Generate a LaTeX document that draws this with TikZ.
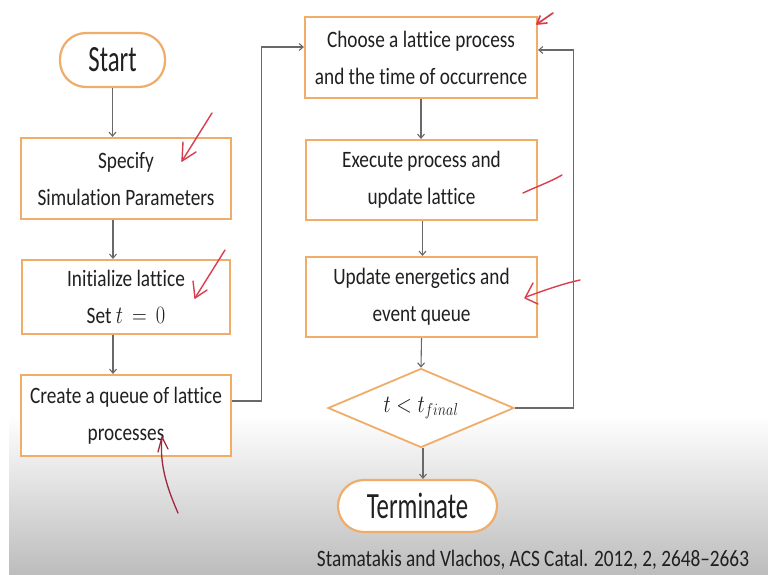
\documentclass[tikz,border=0pt]{standalone}
\usepackage{fontspec}
\setmainfont{Carlito}[FakeStretch=0.82, Ligatures=NoCommon]
\newfontfamily\bigfont{Carlito}[FakeStretch=0.67, Ligatures=NoCommon]
\usetikzlibrary{arrows.meta,shapes.geometric}
\definecolor{boxorange}{RGB}{240,172,105}
\definecolor{linkgray}{RGB}{105,105,105}
\definecolor{inkdark}{RGB}{32,32,32}
\definecolor{penred}{RGB}{218,62,78}
\definecolor{pencrimson}{RGB}{160,40,62}
\tikzset{
  x=1pt, y=-1pt,
  every node/.style={text=inkdark},
  body/.style={font=\fontsize{23.5}{37}\selectfont, align=center},
  procbox/.style={draw=boxorange, line width=2.2pt, fill=white, body, inner sep=0pt},
  pill/.style={draw=boxorange, line width=2.2pt, fill=white, rounded corners=26pt,
    font=\bigfont\fontsize{37}{40}\selectfont, inner sep=0pt},
  decision/.style={draw=boxorange, line width=1.8pt, fill=white, shape=diamond,
    aspect=2.35, inner sep=0pt, minimum width=186pt, minimum height=79pt, body},
  link/.style={draw=linkgray, line width=1.1pt, -{Straight Barb[length=4pt,width=7pt]}},
  pen/.style={draw=penred, line width=1.4pt, line cap=round, line join=round},
  darkpen/.style={draw=pencrimson, line width=1.3pt, line cap=round, line join=round},
}
\newcommand{\mathsq}[1]{\scalebox{0.82}[1]{#1}}
\begin{document}
\begin{tikzpicture}
\useasboundingbox (0,0) rectangle (768,574);
% page background with the soft grey band at the foot
\fill[white] (0,0) rectangle (768,574);
\shade[top color=white, bottom color=black!26] (9,415) rectangle (768,574);

% left column
\node[pill, minimum width=105pt, minimum height=54pt] (start) at (112.5,60) {Start};
\node[procbox, minimum width=210pt, minimum height=81pt] (spec) at (126,178.5)
  {Specify\\Simulation Parameters};
\node[procbox, minimum width=208pt, minimum height=74pt] (init) at (126,297)
  {Initialize lattice\\Set \mathsq{$t\,=\,0$}};
\node[procbox, minimum width=210pt, minimum height=81pt] (queue) at (126,415.5)
  {Create a queue of lattice\\processes};

% right column
\node[procbox, minimum width=232pt, minimum height=81pt] (choose) at (421,57.5)
  {Choose a lattice process\\and the time of occurrence};
\node[procbox, minimum width=231pt, minimum height=80pt] (exec) at (421.5,180)
  {Execute process and\\update lattice};
\node[procbox, minimum width=231pt, minimum height=80pt] (upd) at (421.5,297)
  {Update energetics and\\event queue};
\node[decision] (test) at (421,408) {\mathsq{$t < t_{final}$}};
\node[pill, minimum width=159pt, minimum height=52pt] (term) at (417.5,506) {Terminate};

% citation
\node[body, anchor=base] (cite) at (533,566)
  {Stamatakis and Vlachos, ACS Catal. 2012, 2, 2648--2663};

% connectors
\path[link] (start.south) -- (start.south |- spec.north);
\path[link] ([xshift=-13pt]spec.south) -- ([xshift=-13pt]init.north);
\path[link] ([xshift=-13pt]init.south) -- ([xshift=-13pt]queue.north);
\path[link] ([yshift=14.5pt]queue.east) -- ++(29,0) |- ([yshift=10.5pt]choose.west);
\path[link] (choose.south) -- (exec.north -| choose.south);
\path[link] ([xshift=1pt]exec.south) -- ([xshift=1pt]upd.north);
\path[link] (upd.south) -- (test.north);
\path[link] ([xshift=2pt]test.south) -- ([xshift=2pt]test.south |- term.north);
\path[link] (test.east) -- ++(59,0) |- ([yshift=7.5pt]choose.east);

% hand-drawn pen marks
\draw[pen] (212,113) -- (182,161);
\draw[pen] (183,142) -- (182,161) -- (196,152);
\draw[pen] (225,250) -- (195,298);
\draw[pen] (193,281) -- (195,298) -- (207,290);
\draw[pen, line width=1.7pt] (553,13) -- (537,24);
\draw[pen, line width=1.7pt] (540,16) -- (537,24) -- (547,23);
\draw[pen] (523,193) .. controls (538,186) and (550,182) .. (562,175);
\draw[pen] (580,280) .. controls (562,284) and (545,290) .. (526,297);
\draw[pen] (533,283) -- (525,298) -- (538,304);
\draw[darkpen] (178,513) .. controls (168,490) and (159,465) .. (162,437);
\draw[darkpen] (158,452) -- (162,437) -- (168,449);
\end{tikzpicture}
\end{document}
